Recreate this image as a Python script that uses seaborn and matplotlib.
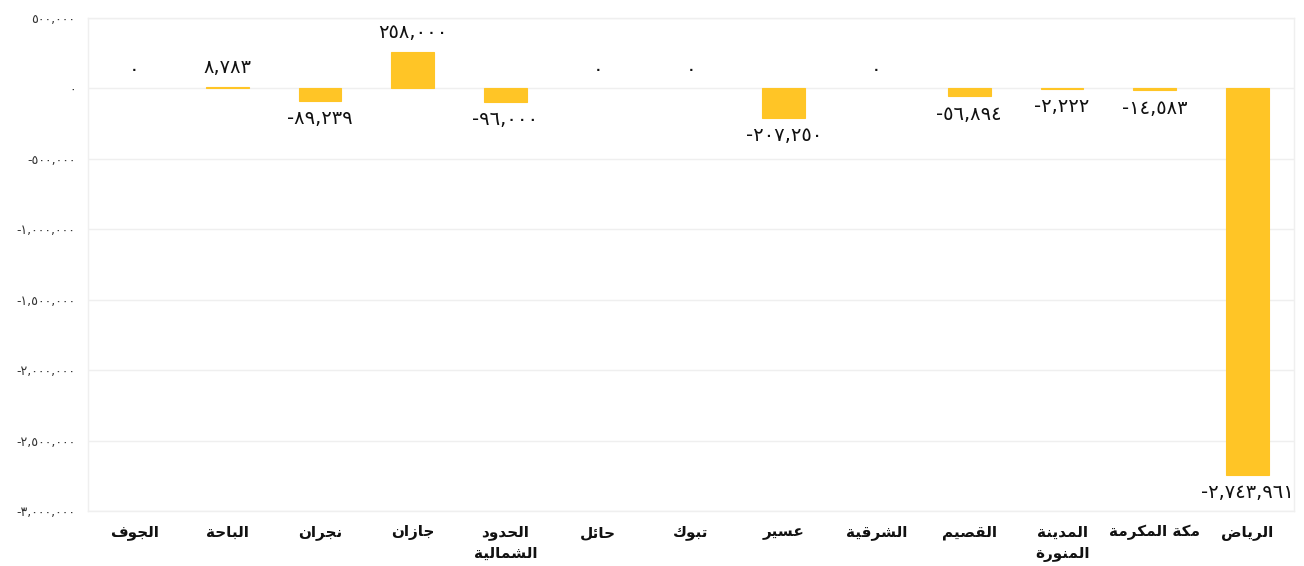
import textwrap
import matplotlib
matplotlib.use("Agg")
import matplotlib.pyplot as plt
import seaborn as sns
from matplotlib.ticker import FixedLocator, FuncFormatter

# data
regions = ["الجوف", "الباحة", "نجران", "جازان", "الحدود الشمالية", "حائل", "تبوك",
           "عسير", "الشرقية", "القصيم", "المدينة المنورة", "مكة المكرمة", "الرياض"]
changes = [0, 8783, -89239, 258000, -96000, 0, 0, -207250, 0, -56894, -2222, -14583, -2743961]
y_ticks = [500000, 0, -500000, -1000000, -1500000, -2000000, -2500000, -3000000]

BAR_COLOR = "#FFC526"
GRID_COLOR = "#EFEFEF"

# matplotlib has no arabic shaping, so pick the presentation forms by hand
DUAL = {"ب": 0xFE8F, "ت": 0xFE95, "ج": 0xFE9D, "ح": 0xFEA1, "س": 0xFEB1, "ش": 0xFEB5,
        "ص": 0xFEB9, "ض": 0xFEBD, "ع": 0xFEC9, "ف": 0xFED1, "ق": 0xFED5, "ك": 0xFED9,
        "ل": 0xFEDD, "م": 0xFEE1, "ن": 0xFEE5, "ي": 0xFEF1, "ئ": 0xFE89}
RIGHT = {"ا": 0xFE8D, "ة": 0xFE93, "د": 0xFEA9, "ر": 0xFEAD, "ز": 0xFEAF, "و": 0xFEED}


def shape_line(s):
    out = []
    for i, ch in enumerate(s):
        if ch in DUAL:
            base = DUAL[ch]
        elif ch in RIGHT:
            base = RIGHT[ch]
        else:
            out.append(ch)
            continue
        prev = s[i - 1] if i > 0 else ""
        nxt = s[i + 1] if i + 1 < len(s) else ""
        join_prev = prev in DUAL
        join_next = ch in DUAL and (nxt in DUAL or nxt in RIGHT)
        if join_prev and join_next:
            form = 3
        elif join_prev:
            form = 1
        elif join_next:
            form = 2
        else:
            form = 0
        out.append(chr(base + form))
    return "".join(out)[::-1]


def shape(label):
    return "\n".join(shape_line(l) for l in textwrap.wrap(label, 12))


AR_DIGITS = str.maketrans("0123456789", "٠١٢٣٤٥٦٧٨٩")


def ar_num(v):
    return f"{int(round(v)):,}".translate(AR_DIGITS)


sns.set_theme(style="white")
plt.rcParams["font.family"] = ["DejaVu Sans"]

fig = plt.figure(figsize=(13.04, 5.66), dpi=100)
ax = fig.add_axes([0.0675, 0.0972, 0.9248, 0.8710])

sns.barplot(x=list(range(len(regions))), y=changes, color=BAR_COLOR, width=0.46,
            saturation=1, linewidth=0, ax=ax)
# thin bars (8,783) vanish without an edge; zero bars must stay invisible
for patch in ax.patches:
    if patch.get_height() != 0:
        patch.set_edgecolor(BAR_COLOR)
        patch.set_linewidth(0.8)

ax.set_xlim(-0.5, len(regions) - 0.5)
ax.set_ylim(-3000000, 500000)
ax.yaxis.set_major_locator(FixedLocator(y_ticks))
ax.yaxis.set_major_formatter(FuncFormatter(lambda v, p: ar_num(v)))
ax.grid(axis="y", color=GRID_COLOR, linewidth=1)
ax.set_axisbelow(True)
for sp in ax.spines.values():
    sp.set_color(GRID_COLOR)
    sp.set_linewidth(1)

ax.set_xticks(range(len(regions)))
ax.set_xticklabels([shape(r) for r in regions], fontsize=11, fontweight="bold",
                   color="#111111", linespacing=1.5, va="top")
ax.tick_params(axis="x", length=0, pad=10)
ax.tick_params(axis="y", length=0, pad=9, labelsize=9, labelcolor="#333333")
ax.set_xlabel("")
ax.set_ylabel("")

for i, v in enumerate(changes):
    if v >= 0:
        ax.annotate(ar_num(v), (i, v), xytext=(0, 7), textcoords="offset points",
                    ha="center", va="bottom", fontsize=14, color="#111111")
    else:
        ax.annotate(ar_num(v), (i, v), xytext=(0, -6), textcoords="offset points",
                    ha="center", va="top", fontsize=14, color="#111111")

fig.savefig("out.png", dpi=100)
